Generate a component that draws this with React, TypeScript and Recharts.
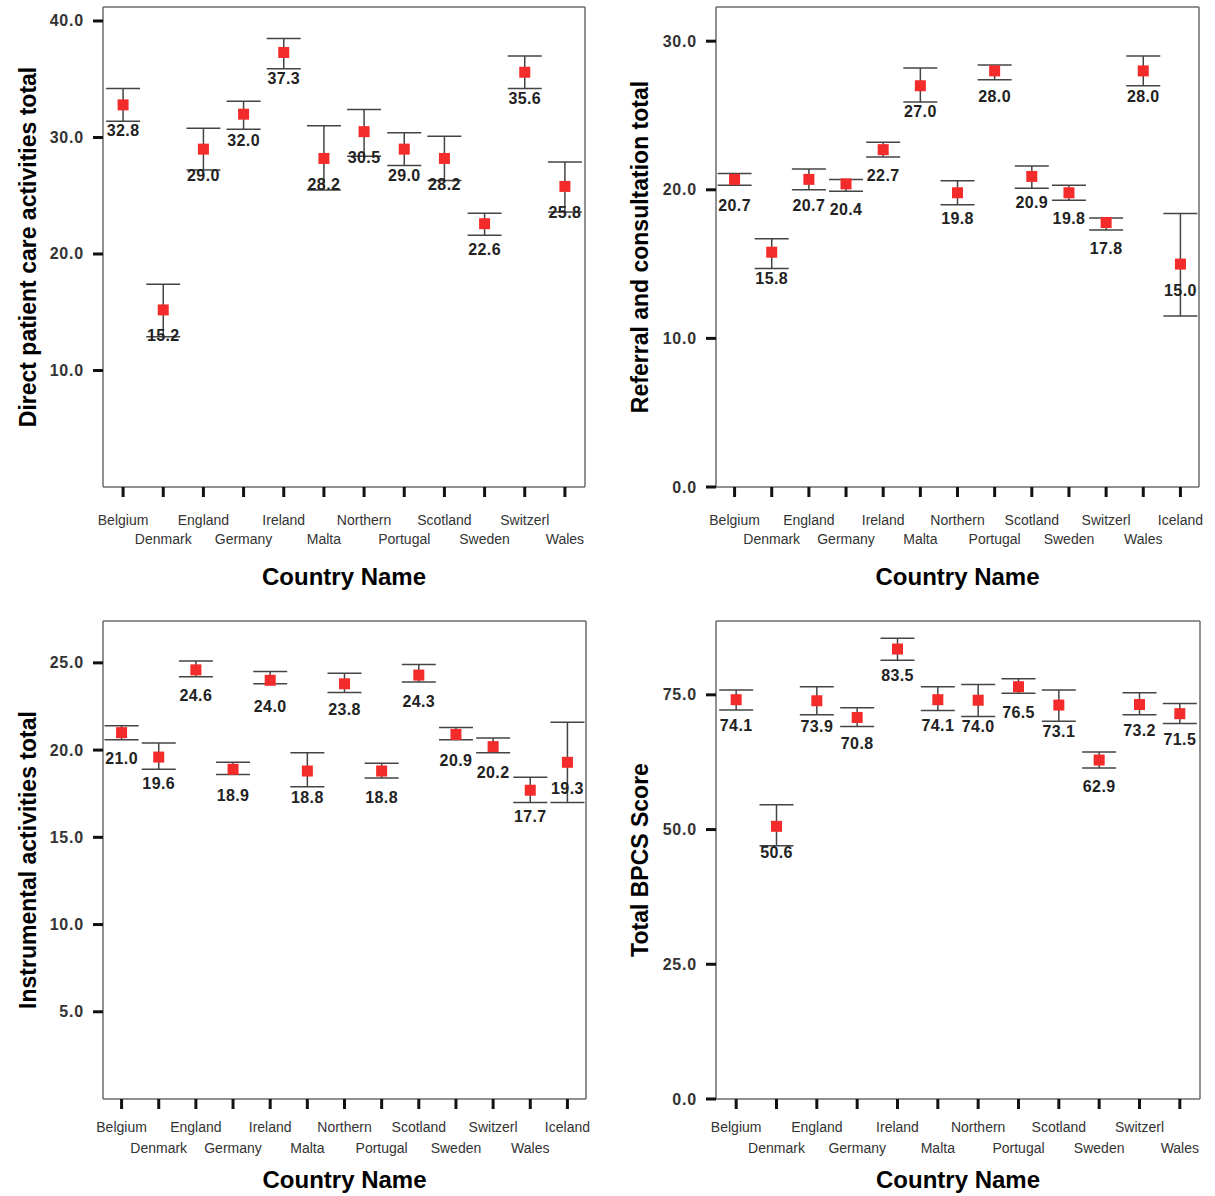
import { ComposedChart, Scatter, ErrorBar, XAxis, YAxis, Label, CartesianGrid } from "recharts";

const FONT = "'Liberation Sans', Arial, Helvetica, sans-serif";
const BORDER = "#6b6b6b";
const POINT = "#f42b2b";

const countries12 = ["Belgium", "Denmark", "England", "Germany", "Ireland", "Malta", "Northern", "Portugal", "Scotland", "Sweden", "Switzerl", "Wales"];
const countries13 = [...countries12, "Iceland"];

// Direct patient care activities total
const directMean = [32.8, 15.2, 29.0, 32.0, 37.3, 28.2, 30.5, 29.0, 28.2, 22.6, 35.6, 25.8];
const directLow = [31.4, 12.9, 27.2, 30.7, 35.9, 25.5, 28.4, 27.6, 26.3, 21.6, 34.2, 23.6];
const directHigh = [34.2, 17.4, 30.8, 33.1, 38.5, 31.0, 32.4, 30.4, 30.1, 23.5, 37.0, 27.9];

// Referral and consultation total
const referralMean = [20.7, 15.8, 20.7, 20.4, 22.7, 27.0, 19.8, 28.0, 20.9, 19.8, 17.8, 28.0, 15.0];
const referralLow = [20.3, 14.7, 20.0, 19.9, 22.2, 25.9, 19.0, 27.4, 20.1, 19.3, 17.3, 27.0, 11.5];
const referralHigh = [21.1, 16.7, 21.4, 20.7, 23.2, 28.2, 20.6, 28.4, 21.6, 20.3, 18.1, 29.0, 18.4];

// Instrumental activities total
const instrMean = [21.0, 19.6, 24.6, 18.9, 24.0, 18.8, 23.8, 18.8, 24.3, 20.9, 20.2, 17.7, 19.3];
const instrLow = [20.6, 18.9, 24.2, 18.6, 23.8, 17.9, 23.3, 18.4, 23.9, 20.6, 19.85, 17.0, 17.0];
const instrHigh = [21.4, 20.4, 25.1, 19.3, 24.5, 19.85, 24.4, 19.25, 24.9, 21.3, 20.7, 18.45, 21.6];

// Total BPCS Score
const bpcsMean = [74.1, 50.6, 73.9, 70.8, 83.5, 74.1, 74.0, 76.5, 73.1, 62.9, 73.2, 71.5];
const bpcsLow = [72.2, 47.0, 71.3, 69.1, 81.4, 72.1, 71.0, 75.3, 70.1, 61.4, 71.3, 69.7];
const bpcsHigh = [75.9, 54.6, 76.5, 72.6, 85.5, 76.5, 76.9, 78.0, 75.9, 64.4, 75.4, 73.4];

type Plot = { left: number; top: number; right: number; bottom: number };

type PanelProps = {
  left: number;
  top: number;
  width: number;
  height: number;
  plot: Plot;
  countries: string[];
  mean: number[];
  low: number[];
  high: number[];
  yMax: number;
  yTicks: number[];
  yTitle: string;
  yTitleX: number;
  row1: number;
  row2: number;
  titleOffset: number;
};

function CountryTick(props: any) {
  const { x, y, payload, index, row1, row2 } = props;
  const dy = index % 2 === 0 ? row1 : row2;
  return (
    <g>
      <line x1={x} y1={y} x2={x} y2={y + 10} stroke="#111" strokeWidth={3} />
      <text x={x} y={y + dy} textAnchor="middle" dominantBaseline="central" fontSize={14} fill="#333" fontFamily={FONT}>
        {payload.value}
      </text>
    </g>
  );
}

function ValueTick(props: any) {
  const { x, y, payload } = props;
  return (
    <g>
      <line x1={x - 10} y1={y} x2={x} y2={y} stroke="#111" strokeWidth={3} />
      <text x={x - 19} y={y} textAnchor="end" dominantBaseline="central" fontSize={16} fontWeight={700} fill="#333" fontFamily={FONT} letterSpacing={0.8}>
        {Number(payload.value).toFixed(1)}
      </text>
    </g>
  );
}

function MeanMark(props: any) {
  const { cx, cy, payload } = props;
  return (
    <g>
      <rect x={cx - 5.5} y={cy - 5.5} width={11} height={11} fill={POINT} />
      <text x={cx} y={cy + 26} textAnchor="middle" dominantBaseline="central" fontSize={16} fontWeight={700} fill="#222" fontFamily={FONT} letterSpacing={0.4}>
        {payload.mean.toFixed(1)}
      </text>
    </g>
  );
}

function Panel(p: PanelProps) {
  const data = p.countries.map((c, i) => ({
    country: c,
    mean: p.mean[i],
    err: [p.mean[i] - p.low[i], p.high[i] - p.mean[i]],
  }));
  const yAxisWidth = p.plot.left - p.left;
  const xAxisHeight = p.top + p.height - p.plot.bottom;
  const margin = { top: p.plot.top - p.top, right: p.left + p.width - p.plot.right, left: 0, bottom: 0 };
  // frame: top and right edges of the plot area
  const frameTop = (g: any) => [g && g.offset ? g.offset.top : margin.top];
  const frameRight = (g: any) => [g && g.offset ? g.offset.left + g.offset.width : p.plot.right - p.left];

  return (
    <div style={{ position: "absolute", left: p.left, top: p.top, width: p.width, height: p.height }}>
      <ComposedChart width={p.width} height={p.height} data={data} margin={margin}>
        <CartesianGrid
          stroke={BORDER}
          strokeWidth={1.5}
          horizontalCoordinatesGenerator={frameTop}
          verticalCoordinatesGenerator={frameRight}
        />
        <XAxis
          dataKey="country"
          type="category"
          scale="band"
          interval={0}
          height={xAxisHeight}
          tickSize={0}
          tickMargin={0}
          axisLine={{ stroke: BORDER, strokeWidth: 1.5 }}
          tick={(t: any) => <CountryTick {...t} row1={p.row1} row2={p.row2} />}
        >
          <Label
            value="Country Name"
            position="insideTop"
            offset={p.titleOffset}
            style={{ fontSize: 24, fontWeight: 700, fill: "#000", fontFamily: FONT }}
          />
        </XAxis>
        <YAxis
          type="number"
          domain={[0, p.yMax]}
          ticks={p.yTicks}
          interval={0}
          width={yAxisWidth}
          tickSize={0}
          tickMargin={0}
          allowDataOverflow
          axisLine={{ stroke: BORDER, strokeWidth: 1.5 }}
          tick={(t: any) => <ValueTick {...t} />}
        >
          <Label
            value={p.yTitle}
            angle={-90}
            position="insideLeft"
            offset={p.yTitleX}
            style={{ textAnchor: "middle", fontSize: 23, fontWeight: 700, fill: "#000", fontFamily: FONT }}
          />
        </YAxis>
        <Scatter dataKey="mean" isAnimationActive={false} shape={(s: any) => <MeanMark {...s} />}>
          <ErrorBar dataKey="err" direction="y" width={17} stroke="#444" strokeWidth={1.5} isAnimationActive={false} />
        </Scatter>
      </ComposedChart>
    </div>
  );
}

export default function App() {
  return (
    <div style={{ position: "absolute", left: 0, top: 0, width: 1215, height: 1196, background: "#fff" }}>
      <Panel
        left={0}
        top={0}
        width={607}
        height={600}
        plot={{ left: 103, top: 7, right: 585, bottom: 487 }}
        countries={countries12}
        mean={directMean}
        low={directLow}
        high={directHigh}
        yMax={41.2}
        yTicks={[10, 20, 30, 40]}
        yTitle="Direct patient care activities total"
        yTitleX={28}
        row1={33}
        row2={52}
        titleOffset={81}
      />
      <Panel
        left={607}
        top={0}
        width={608}
        height={600}
        plot={{ left: 716, top: 7, right: 1199, bottom: 487 }}
        countries={countries13}
        mean={referralMean}
        low={referralLow}
        high={referralHigh}
        yMax={32.3}
        yTicks={[0, 10, 20, 30]}
        yTitle="Referral and consultation total"
        yTitleX={33}
        row1={33}
        row2={52}
        titleOffset={81}
      />
      <Panel
        left={0}
        top={600}
        width={607}
        height={596}
        plot={{ left: 103, top: 621, right: 586, bottom: 1099 }}
        countries={countries13}
        mean={instrMean}
        low={instrLow}
        high={instrHigh}
        yMax={27.4}
        yTicks={[5, 10, 15, 20, 25]}
        yTitle="Instrumental activities total"
        yTitleX={28}
        row1={28}
        row2={49}
        titleOffset={72}
      />
      <Panel
        left={607}
        top={600}
        width={608}
        height={596}
        plot={{ left: 716, top: 621, right: 1200, bottom: 1099 }}
        countries={countries12}
        mean={bpcsMean}
        low={bpcsLow}
        high={bpcsHigh}
        yMax={88.7}
        yTicks={[0, 25, 50, 75]}
        yTitle="Total BPCS Score"
        yTitleX={33}
        row1={28}
        row2={49}
        titleOffset={72}
      />
    </div>
  );
}
